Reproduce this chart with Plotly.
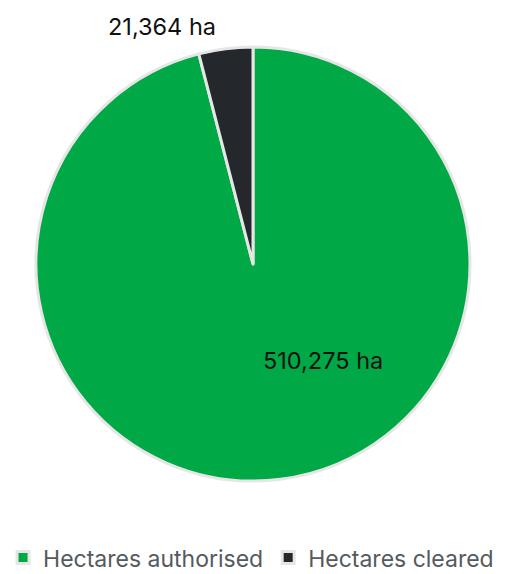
import plotly.graph_objects as go

categories = ["Hectares authorised", "Hectares cleared"]
values = [510275, 21364]
colors = ["#00a846", "#24282d"]

W, H = 506, 574

fig = go.Figure(go.Pie(
    labels=categories,
    values=values,
    sort=False,
    direction="clockwise",
    rotation=0,
    marker=dict(colors=colors, line=dict(color="#e6e6e6", width=3)),
    textinfo="none",
    hoverinfo="label+value",
    domain=dict(x=[36 / W, 470 / W], y=[1 - 481 / H, 1 - 47 / H]),
))

label_pos = [(323 / W, 1 - 360 / H), (162 / W, 1 - 27 / H)]
for v, (px, py) in zip(values, label_pos):
    fig.add_annotation(x=px, y=py, xref="paper", yref="paper", text=f"{v:,} ha",
                       showarrow=False, xanchor="center", yanchor="middle",
                       font=dict(family="Inter, Roboto, sans-serif", size=23.5, color="#111111"))

fig.update_layout(
    width=W, height=H,
    margin=dict(l=0, r=0, t=0, b=0, autoexpand=False),
    paper_bgcolor="white",
    plot_bgcolor="white",
    showlegend=True,
    legend=dict(orientation="h", x=0.006, xanchor="left", y=-0.009, yanchor="bottom",
                font=dict(family="Inter, Roboto, sans-serif", size=23, color="#555a60"),
                itemwidth=30, traceorder="normal"),
)

fig.write_html("out.html")
